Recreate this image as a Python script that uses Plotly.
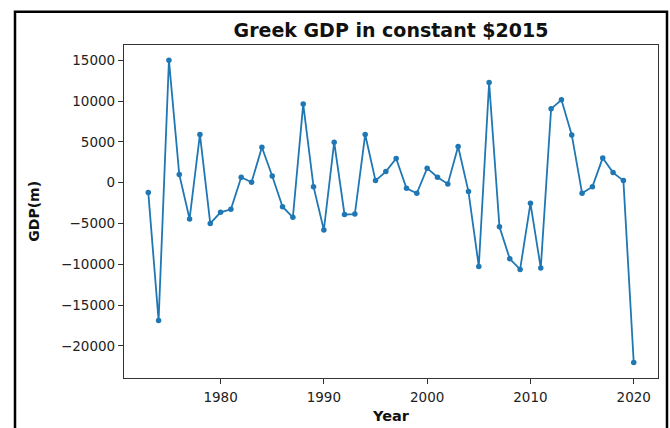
import plotly.graph_objects as go

years = list(range(1973, 2021))
gdp_change = [
    -1200, -16900, 15000, 1000, -4450, 5900, -5000, -3630, -3260, 660,
    50, 4340, 820, -2950, -4250, 9620, -490, -5800, 4960, -3900,
    -3850, 5890, 250, 1350, 2950, -690, -1300, 1770, 660, -160,
    4420, -1100, -10260, 12270, -5400, -9330, -10630, -2530, -10470, 9040,
    10150, 5850, -1300, -490, 3030, 1230, 250, -22040,
]

x_tick_vals = [1980, 1990, 2000, 2010, 2020]
x_tick_text = ["1980", "1990", "2000", "2010", "2020"]
y_tick_vals = [15000, 10000, 5000, 0, -5000, -10000, -15000, -20000]
y_tick_text = ["15000", "10000", "5000", "0", "\u22125000", "\u221210000", "\u221215000", "\u221220000"]

title_text = "Greek GDP in constant $2015"
x_label = "Year"
y_label = "GDP(m)"

color = "#1f77b4"
font_family = "DejaVu Sans"

fig = go.Figure()
fig.add_trace(go.Scatter(
    x=years, y=gdp_change, mode="lines+markers",
    line=dict(color=color, width=1.8),
    marker=dict(color=color, size=5.5),
    showlegend=False,
))

axis_common = dict(
    showgrid=False, zeroline=False, showline=True, mirror=True,
    linecolor="#333333", linewidth=1.2,
    ticks="outside", ticklen=5, tickwidth=1.1, tickcolor="#333333",
    tickfont=dict(family=font_family, size=13.5, color="#222222"),
)

fig.update_layout(
    width=670, height=428,
    margin=dict(l=124, r=12, t=45, b=50),
    paper_bgcolor="white", plot_bgcolor="white",
    title=dict(text="<b>" + title_text + "</b>", x=0.5, xref="paper",
               y=1 - 30 / 428, yref="container", yanchor="middle", xanchor="center",
               font=dict(family=font_family, size=19, color="#111111")),
    xaxis=dict(range=[1970.65, 2022.35], tickmode="array",
               tickvals=x_tick_vals, ticktext=x_tick_text,
               ticklabelstandoff=2, **axis_common),
    yaxis=dict(range=[-23930, 16860], tickmode="array",
               tickvals=y_tick_vals, ticktext=y_tick_text, **axis_common),
    annotations=[
        dict(text="<b>" + x_label + "</b>", x=0.5, y=-0.115, xref="paper", yref="paper",
             showarrow=False, xanchor="center", yanchor="middle",
             font=dict(family=font_family, size=14.5, color="#111111")),
        dict(text="<b>" + y_label + "</b>", x=-0.170, y=0.5, xref="paper", yref="paper",
             showarrow=False, xanchor="center", yanchor="middle", textangle=-90,
             font=dict(family=font_family, size=14, color="#111111")),
    ],
    shapes=[
        dict(type="rect", xref="paper", yref="paper",
             x0=(15 - 124) / 534, x1=(667 - 124) / 534,
             y0=(377.7 - 445) / 332.4, y1=(377.7 - 12) / 332.4,
             line=dict(color="black", width=2.5), fillcolor="rgba(0,0,0,0)", layer="above"),
    ],
)

fig.write_html("out.html")
